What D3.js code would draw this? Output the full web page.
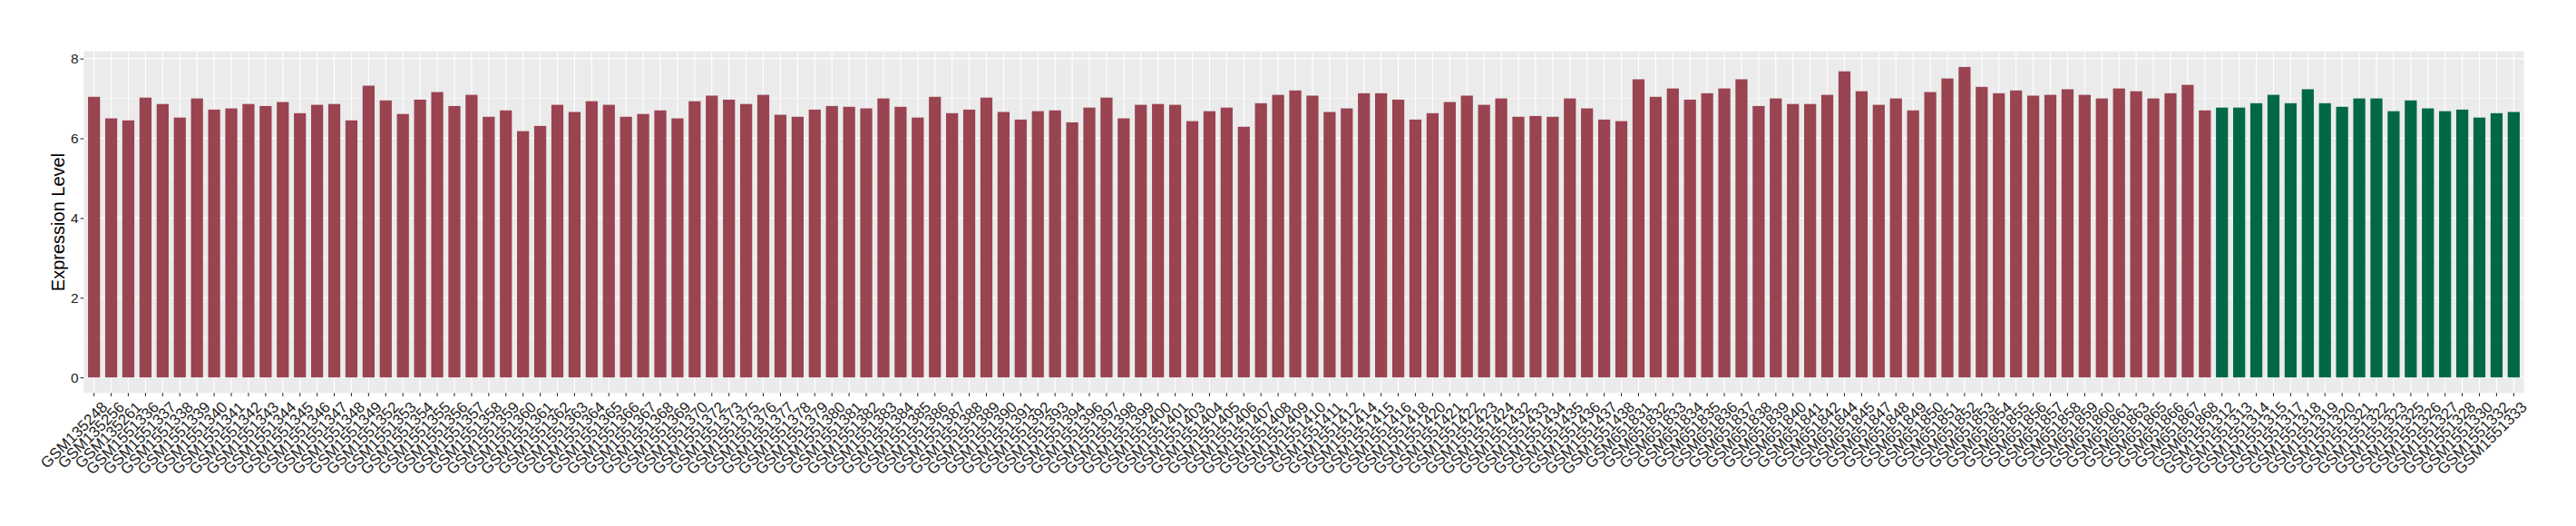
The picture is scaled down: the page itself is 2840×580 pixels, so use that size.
<!DOCTYPE html>
<html>
<head>
<meta charset="utf-8">
<script src="https://cdn.jsdelivr.net/npm/d3@7"></script>
<style>
  html, body { margin: 0; padding: 0; background: #ffffff; }
  svg { display: block; }
</style>
</head>
<body>
<svg id="chart" width="2840" height="580"></svg>
<script>
// ---- data ----
const categoriesA = [
  "GSM135248","GSM135256","GSM135261","GSM1551336","GSM1551337","GSM1551338","GSM1551339","GSM1551340",
  "GSM1551341","GSM1551342","GSM1551343","GSM1551344","GSM1551345","GSM1551346","GSM1551347","GSM1551348",
  "GSM1551349","GSM1551352","GSM1551353","GSM1551354","GSM1551355","GSM1551356","GSM1551357","GSM1551358",
  "GSM1551359","GSM1551360","GSM1551361","GSM1551362","GSM1551363","GSM1551364","GSM1551365","GSM1551366",
  "GSM1551367","GSM1551368","GSM1551369","GSM1551370","GSM1551372","GSM1551373","GSM1551375","GSM1551376",
  "GSM1551377","GSM1551378","GSM1551379","GSM1551380","GSM1551381","GSM1551382","GSM1551383","GSM1551384",
  "GSM1551385","GSM1551386","GSM1551387","GSM1551388","GSM1551389","GSM1551390","GSM1551391","GSM1551392",
  "GSM1551393","GSM1551394","GSM1551396","GSM1551397","GSM1551398","GSM1551399","GSM1551400","GSM1551401",
  "GSM1551403","GSM1551404","GSM1551405","GSM1551406","GSM1551407","GSM1551408","GSM1551409","GSM1551410",
  "GSM1551411","GSM1551412","GSM1551414","GSM1551415","GSM1551416","GSM1551418","GSM1551420","GSM1551421",
  "GSM1551422","GSM1551423","GSM1551424","GSM1551432","GSM1551433","GSM1551434","GSM1551435","GSM1551436",
  "GSM1551437","GSM1551438","GSM651831","GSM651832","GSM651833","GSM651834","GSM651835","GSM651836",
  "GSM651837","GSM651838","GSM651839","GSM651840","GSM651841","GSM651842","GSM651844","GSM651845",
  "GSM651847","GSM651848","GSM651849","GSM651850","GSM651851","GSM651852","GSM651853","GSM651854",
  "GSM651855","GSM651856","GSM651857","GSM651858","GSM651859","GSM651860","GSM651861","GSM651863",
  "GSM651865","GSM651866","GSM651867","GSM651868"
];
const valuesA = [
  7.04,6.50,6.45,7.02,6.86,6.52,7.00,6.72,
  6.75,6.86,6.81,6.91,6.63,6.84,6.86,6.45,
  7.32,6.95,6.61,6.97,7.16,6.81,7.09,6.54,
  6.70,6.18,6.31,6.84,6.66,6.93,6.84,6.54,
  6.61,6.70,6.50,6.93,7.07,6.97,6.86,7.09,
  6.59,6.54,6.72,6.81,6.79,6.75,7.00,6.79,
  6.52,7.04,6.63,6.72,7.02,6.66,6.47,6.68,
  6.70,6.40,6.77,7.02,6.50,6.84,6.86,6.84,
  6.43,6.68,6.77,6.29,6.88,7.09,7.20,7.07,
  6.66,6.75,7.13,7.13,6.97,6.47,6.63,6.91,
  7.07,6.84,7.00,6.54,6.56,6.54,7.00,6.75,
  6.47,6.43,7.48,7.04,7.25,6.97,7.13,7.25,
  7.48,6.81,7.00,6.86,6.86,7.09,7.68,7.18,
  6.84,7.00,6.70,7.16,7.50,7.79,7.29,7.13,
  7.20,7.07,7.09,7.23,7.09,7.00,7.25,7.18,
  7.00,7.13,7.34,6.70
];
const categoriesB = [
  "GSM1551312","GSM1551313","GSM1551314","GSM1551315","GSM1551317","GSM1551318","GSM1551319","GSM1551320",
  "GSM1551321","GSM1551322","GSM1551323","GSM1551325","GSM1551326","GSM1551327","GSM1551328","GSM1551330",
  "GSM1551332","GSM1551333"
];
const valuesB = [
  6.77,6.77,6.88,7.09,6.88,7.23,6.88,6.79,
  7.00,7.00,6.68,6.95,6.75,6.68,6.72,6.52,
  6.63,6.66
];
const yTicks = [0, 2, 4, 6, 8];
const yMinorTicks = [1, 3, 5, 7];
const yTitle = "Expression Level";
const colorA = "#9A4351";
const colorB = "#006847";

// ---- build ----
const data = categoriesA.map((c, i) => ({ cat: c, val: valuesA[i], color: colorA }))
  .concat(categoriesB.map((c, i) => ({ cat: c, val: valuesB[i], color: colorB })));
const categories = data.map(d => d.cat);

const panel = { left: 92.3, right: 2782.7, top: 56.7, bottom: 433.3 };
const svg = d3.select("#chart");
const FONT = "'Liberation Sans', Arial, sans-serif";
const TEXT_COLOR = "#1F1F1F";

const x = d3.scaleBand()
  .domain(categories)
  .range([panel.left, panel.right])
  .paddingInner(0.3)
  .paddingOuter(0.25);

const ymax = d3.max(data, d => d.val);
const pad = 0.05 * ymax;
const y = d3.scaleLinear()
  .domain([-pad, ymax + pad])
  .range([panel.bottom, panel.top]);

// panel background
svg.append("rect")
  .attr("x", panel.left).attr("y", panel.top)
  .attr("width", panel.right - panel.left)
  .attr("height", panel.bottom - panel.top)
  .attr("fill", "#EBEBEB");

// minor horizontal grid
svg.append("g").selectAll("line").data(yMinorTicks).join("line")
  .attr("x1", panel.left).attr("x2", panel.right)
  .attr("y1", d => y(d)).attr("y2", d => y(d))
  .attr("stroke", "#ffffff").attr("stroke-width", 0.55);

// major horizontal grid
svg.append("g").selectAll("line").data(yTicks).join("line")
  .attr("x1", panel.left).attr("x2", panel.right)
  .attr("y1", d => y(d)).attr("y2", d => y(d))
  .attr("stroke", "#ffffff").attr("stroke-width", 1.1);

// vertical grid
svg.append("g").selectAll("line").data(categories).join("line")
  .attr("x1", d => x(d) + x.bandwidth() / 2).attr("x2", d => x(d) + x.bandwidth() / 2)
  .attr("y1", panel.top).attr("y2", panel.bottom)
  .attr("stroke", "#ffffff").attr("stroke-width", 1.1);

// bars
svg.append("g").selectAll("rect").data(data).join("rect")
  .attr("x", d => x(d.cat))
  .attr("width", x.bandwidth())
  .attr("y", d => y(d.val))
  .attr("height", d => y(0) - y(d.val))
  .attr("fill", d => d.color);

// y axis
const yAxis = d3.axisLeft(y).tickValues(yTicks).tickSize(3.7).tickPadding(2).tickFormat(d3.format("d"));
const gy = svg.append("g").attr("transform", `translate(${panel.left},0)`).call(yAxis);
gy.select(".domain").remove();
gy.selectAll(".tick line").attr("stroke", "#333333").attr("stroke-width", 1.1);
gy.selectAll(".tick text")
  .attr("fill", TEXT_COLOR)
  .style("font-family", FONT)
  .style("font-size", "15.5px");

// x axis
const xAxis = d3.axisBottom(x).tickSize(3.7).tickPadding(2);
const gx = svg.append("g").attr("transform", `translate(0,${panel.bottom})`).call(xAxis);
gx.select(".domain").remove();
gx.selectAll(".tick line").attr("stroke", "#333333").attr("stroke-width", 1.1);
gx.selectAll(".tick text")
  .attr("fill", TEXT_COLOR)
  .style("font-family", FONT)
  .style("font-size", "17px")
  .attr("text-anchor", "end")
  .attr("x", 0).attr("y", 0).attr("dy", "0.72em")
  .attr("transform", "translate(7,8) rotate(-45)");

// y title
svg.append("text")
  .attr("transform", `translate(71,${(panel.top + panel.bottom) / 2}) rotate(-90)`)
  .attr("text-anchor", "middle")
  .style("font-family", FONT)
  .style("font-size", "20px")
  .attr("fill", "#000000")
  .text(yTitle);
</script>
</body>
</html>
